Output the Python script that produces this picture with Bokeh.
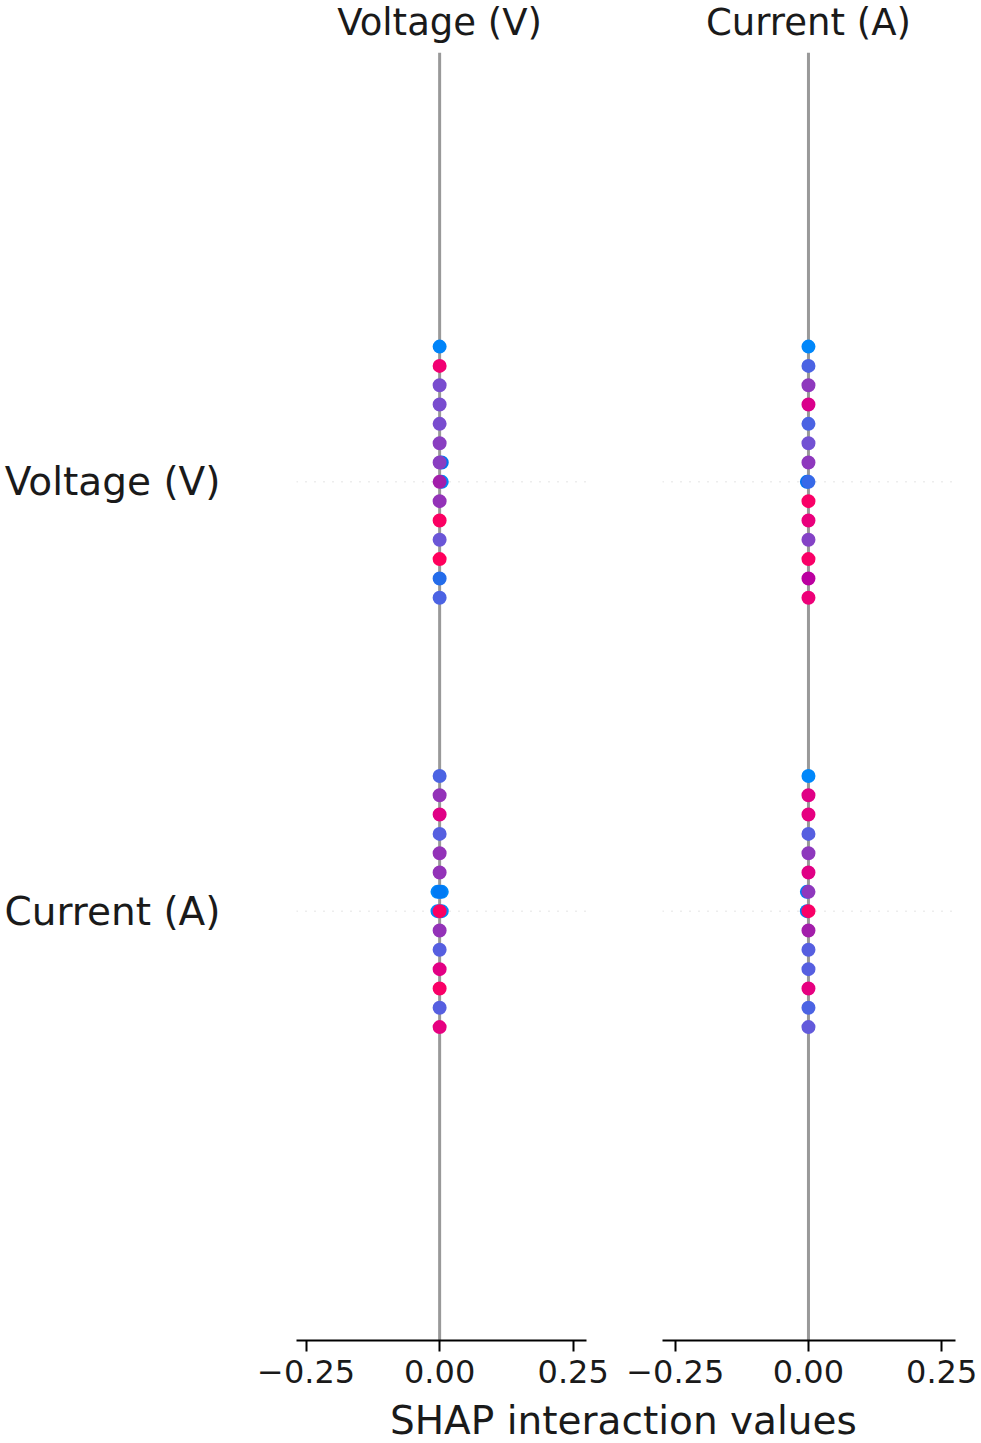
import numpy as np
from bokeh.plotting import figure
from bokeh.layouts import row, column
from bokeh.models import (Range1d, FixedTicker, CustomJSTickFormatter, Span, Label,
                          ColumnDataSource)
from bokeh.transform import linear_cmap
from bokeh.embed import file_html
from bokeh.resources import INLINE

# ---------------- data ----------------
features = ["Voltage (V)", "Current (A)"]
x_label = "SHAP interaction values"
x_ticks = [-0.25, 0.0, 0.25]

# SHAP interaction values and feature values (0 = low, 1 = high), listed top-to-bottom within each bin
# column "Voltage (V)", row "Voltage (V)"
vv_shap = [0.0, 0.0, 0.0, 0.0, 0.0, 0.0, 0.0, 0.0, 0.0, 0.0, 0.0, 0.0, 0.0, 0.0, 0.004, 0.004]
vv_feat = [0.05, 0.85, 0.36, 0.36, 0.36, 0.42, 0.42, 0.52, 0.46, 0.92, 0.32, 0.95, 0.20, 0.25, 0.15, 0.05]
# column "Voltage (V)", row "Current (A)"
vc_shap = [0.0, 0.0, 0.0, 0.0, 0.0, 0.0, 0.0, 0.0, 0.0, 0.0, 0.0, 0.0, 0.0, 0.0,
           -0.004, -0.004, 0.004, 0.004]
vc_feat = [0.25, 0.46, 0.75, 0.27, 0.46, 0.46, 0.12, 0.92, 0.46, 0.27, 0.76, 0.90, 0.27, 0.78,
           0.03, 0.03, 0.03, 0.03]
# column "Current (A)", row "Voltage (V)"
cv_shap = [0.0, 0.0, 0.0, 0.0, 0.0, 0.0, 0.0, 0.0, 0.0, 0.0, 0.0, 0.0, 0.0, 0.0, -0.003]
cv_feat = [0.03, 0.25, 0.44, 0.72, 0.25, 0.34, 0.44, 0.22, 0.90, 0.80, 0.40, 0.90, 0.60, 0.82, 0.15]
# column "Current (A)", row "Current (A)"
cc_shap = [0.0, 0.0, 0.0, 0.0, 0.0, 0.0, 0.0, 0.0, 0.0, 0.0, 0.0, 0.0, 0.0, 0.0, -0.003, -0.003]
cc_feat = [0.03, 0.75, 0.78, 0.27, 0.44, 0.75, 0.44, 0.90, 0.52, 0.27, 0.27, 0.78, 0.25, 0.30, 0.10, 0.10]

panels = {
    (0, 0): (vv_shap, vv_feat),
    (0, 1): (vc_shap, vc_feat),
    (1, 0): (cv_shap, cv_feat),
    (1, 1): (cc_shap, cc_feat),
}

# ---------------- SHAP red-blue colormap ----------------
def lch_palette(n=256):
    half = n // 2
    L = np.concatenate([np.linspace(54.0, 40.0, half), np.linspace(40.0, 54.0, n - half)])
    C = np.linspace(70.0, 90.0, n)
    H = np.linspace(4.6588, 0.35470565 + 2 * np.pi, n)
    a = C * np.cos(H)
    b = C * np.sin(H)
    fy = (L + 16) / 116
    fx = fy + a / 500
    fz = fy - b / 200
    d = 6 / 29
    finv = lambda t: np.where(t > d, t ** 3, 3 * d * d * (t - 4 / 29))
    X = 0.95047 * finv(fx)
    Y = finv(fy)
    Z = 1.08883 * finv(fz)
    r = 3.2406 * X - 1.5372 * Y - 0.4986 * Z
    g = -0.9689 * X + 1.8758 * Y + 0.0415 * Z
    bb = 0.0557 * X - 0.2040 * Y + 1.0570 * Z
    def gam(c):
        c = np.clip(c, 0, 1)
        return np.where(c <= 0.0031308, 12.92 * c, 1.055 * c ** (1 / 2.4) - 0.055)
    rgb = np.stack([gam(r), gam(g), gam(bb)], axis=1)
    rgb = np.clip(np.round(rgb * 255), 0, 255).astype(int)
    return ["#%02x%02x%02x" % tuple(c) for c in rgb]

palette = lch_palette()

def beeswarm(shap_vals, row_pos, row_height=0.4):
    x = np.asarray(shap_vals, dtype=float)
    ys = np.zeros(len(x))
    for v in np.unique(x):
        idx = np.where(x == v)[0]
        layers = np.arange(len(idx))
        offs = np.ceil(layers / 2) * ((layers % 2) * 2 - 1)
        ys[idx] = np.sort(offs)[::-1]
    ys *= 0.9 * (row_height / (np.max(ys) + 1))
    return row_pos + ys

FONT = "DejaVu Sans"
TXT = "#1a1a1a"

x_ranges = [(-0.268, 0.275), (-0.274, 0.276)]
frame_w = [290, 293]
borders_lr = [(296, 38), (38, 26)]

def strip(fw, bl, br, h, xr):
    s = figure(frame_width=fw, frame_height=h, x_range=xr, y_range=Range1d(0, 1),
               min_border_left=bl, min_border_right=br, min_border_top=0, min_border_bottom=0,
               x_axis_location=None, y_axis_location=None,
               output_backend="svg", toolbar_location=None)
    s.outline_line_color = None
    s.grid.visible = False
    return s

figs = []
titles = []
for ci, fname in enumerate(features):
    xr = Range1d(*x_ranges[ci])
    p = figure(frame_width=frame_w[ci], frame_height=1288,
               x_range=xr, y_range=Range1d(-1, 2),
               min_border_left=borders_lr[ci][0], min_border_right=borders_lr[ci][1],
               min_border_top=0, min_border_bottom=56,
               output_backend="svg", toolbar_location=None,
               y_axis_location="left" if ci == 0 else None)
    p.outline_line_color = None
    p.grid.visible = False

    # vertical zero line
    p.add_layout(Span(location=0, dimension="height", line_color="#999999",
                      line_width=3, level="underlay"))

    for ri, rname in enumerate(features):
        pos = len(features) - 1 - ri
        p.add_layout(Span(location=pos, dimension="width", line_color="#c8c8c8",
                          line_width=1, line_dash="1 8", level="underlay"))
        shap_vals, feat_vals = panels[(ci, ri)]
        ys = beeswarm(shap_vals, pos)
        xs = np.asarray(shap_vals, dtype=float)
        order = np.argsort((xs == 0).astype(int), kind="stable")  # off-centre points behind
        src = ColumnDataSource(dict(x=xs[order], y=ys[order],
                                    f=np.asarray(feat_vals, dtype=float)[order]))
        p.scatter("x", "y", source=src, size=14, line_color=None,
                  fill_color=linear_cmap("f", palette, 0.0, 1.0))

    # x axis
    xa = p.xaxis[0]
    xa.ticker = FixedTicker(ticks=x_ticks)
    xa.formatter = CustomJSTickFormatter(code="""
        if (Math.abs(tick) < 1e-9) return "0.00";
        return (tick < 0 ? "\\u2212" : "") + Math.abs(tick).toFixed(2);
    """)
    xa.axis_line_color = "black"
    xa.axis_line_width = 2
    xa.major_tick_line_color = "black"
    xa.major_tick_line_width = 2
    xa.major_tick_out = 11
    xa.major_tick_in = 0
    xa.minor_tick_line_color = None
    xa.major_label_standoff = 8
    xa.major_label_text_font = FONT
    xa.major_label_text_font_size = "32px"
    xa.major_label_text_color = TXT

    if ci == 0:
        ya = p.yaxis[0]
        ya.ticker = FixedTicker(ticks=[len(features) - 1 - i for i in range(len(features))])
        ya.formatter = CustomJSTickFormatter(args=dict(names=features), code="""
            const i = names.length - 1 - Math.round(tick);
            return names[i];
        """)
        ya.axis_line_color = None
        ya.major_tick_line_color = None
        ya.minor_tick_line_color = None
        ya.major_tick_out = 0
        ya.major_tick_in = 0
        ya.major_label_standoff = 76
        ya.major_label_text_font = FONT
        ya.major_label_text_font_size = "39px"
        ya.major_label_text_color = TXT
    figs.append(p)

    # title strip above the panel
    t = strip(frame_w[ci], borders_lr[ci][0], borders_lr[ci][1], 52, xr)
    t.add_layout(Label(x=0, y=0.57, text=fname, text_align="center",
                       text_baseline="middle", text_font=FONT,
                       text_font_size="37px", text_color=TXT))
    titles.append(t)

# x label strip
p3 = figure(width=981, height=47, x_range=Range1d(0, 1), y_range=Range1d(0, 1),
            x_axis_location=None, y_axis_location=None, min_border=0,
            output_backend="svg", toolbar_location=None)
p3.outline_line_color = None
p3.grid.visible = False
p3.add_layout(Label(x=0.635, y=0.49, text=x_label, text_align="center",
                    text_baseline="middle", text_font=FONT,
                    text_font_size="39px", text_color=TXT))

layout = column(row(titles[0], titles[1]), row(figs[0], figs[1]), p3)
open("out.html", "w").write(file_html(layout, INLINE))
